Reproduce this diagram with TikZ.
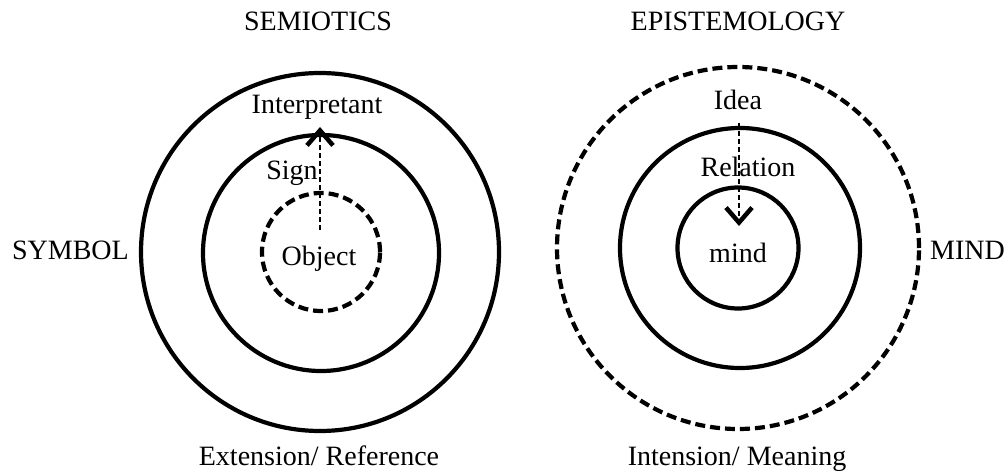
\documentclass[tikz,border=0pt]{standalone}
\usepackage{fontspec}
\setmainfont{Liberation Serif}
\usetikzlibrary{arrows.meta}
\begin{document}
\begin{tikzpicture}[x=1pt,y=-1pt,
  lbl/.style={font=\fontsize{28}{32}\selectfont, inner sep=0pt, anchor=base},
  ring/.style={circle, draw=black, line width=4.2pt, inner sep=0pt},
  dring/.style={ring, dash pattern=on 10pt off 5pt},
  flow/.style={line width=2.2pt, dash pattern=on 5pt off 3pt, -{Straight Barb[length=15pt,width=26pt,line width=4.5pt]}}
]
\useasboundingbox (0,0) rectangle (1006,473);
% titles
\node[lbl] (t1) at (318,31) {SEMIOTICS};
\node[lbl] (t2) at (738,31) {EPISTEMOLOGY};
% left circles
\node[ring, minimum size=358pt] (Lout) at (320,252) {};
\node[ring, minimum size=236pt] (Lmid) at (321,253) {};
\node[dring, minimum size=118pt] (Lin) at (321,252) {};
% right circles
\node[dring, minimum size=362pt] (Rout) at (738,248) {};
\node[ring, minimum size=240pt] (Rmid) at (740,248) {};
\node[ring, minimum size=121pt] (Rin) at (738,248) {};
% labels
\node[lbl] (interp) at (317,114) {Interpretant};
\node[lbl] (sign) at (292,180) {Sign};
\node[lbl] (obj) at (319,265) {Object};
\node[lbl, anchor=base east] (sym) at (129,259) {SYMBOL};
\node[lbl] (ext) at (319,465) {Extension/ Reference};
\node[lbl] (idea) at (738,110) {Idea};
\node[lbl] (rel) at (748,177) {Relation};
\node[lbl] (mind) at (738,262) {mind};
\node[lbl, anchor=base west] (MIND) at (930,259) {MIND};
\node[lbl] (int) at (737,465) {Intension/ Meaning};
% arrows
\coordinate (a1s) at (320,230);
\coordinate (a1e) at (320,127);
\coordinate (a2s) at (739,123);
\coordinate (a2e) at (739,226);
\draw[flow] (a1s) -- (a1e);
\draw[flow] (a2s) -- (a2e);
\end{tikzpicture}
\end{document}
